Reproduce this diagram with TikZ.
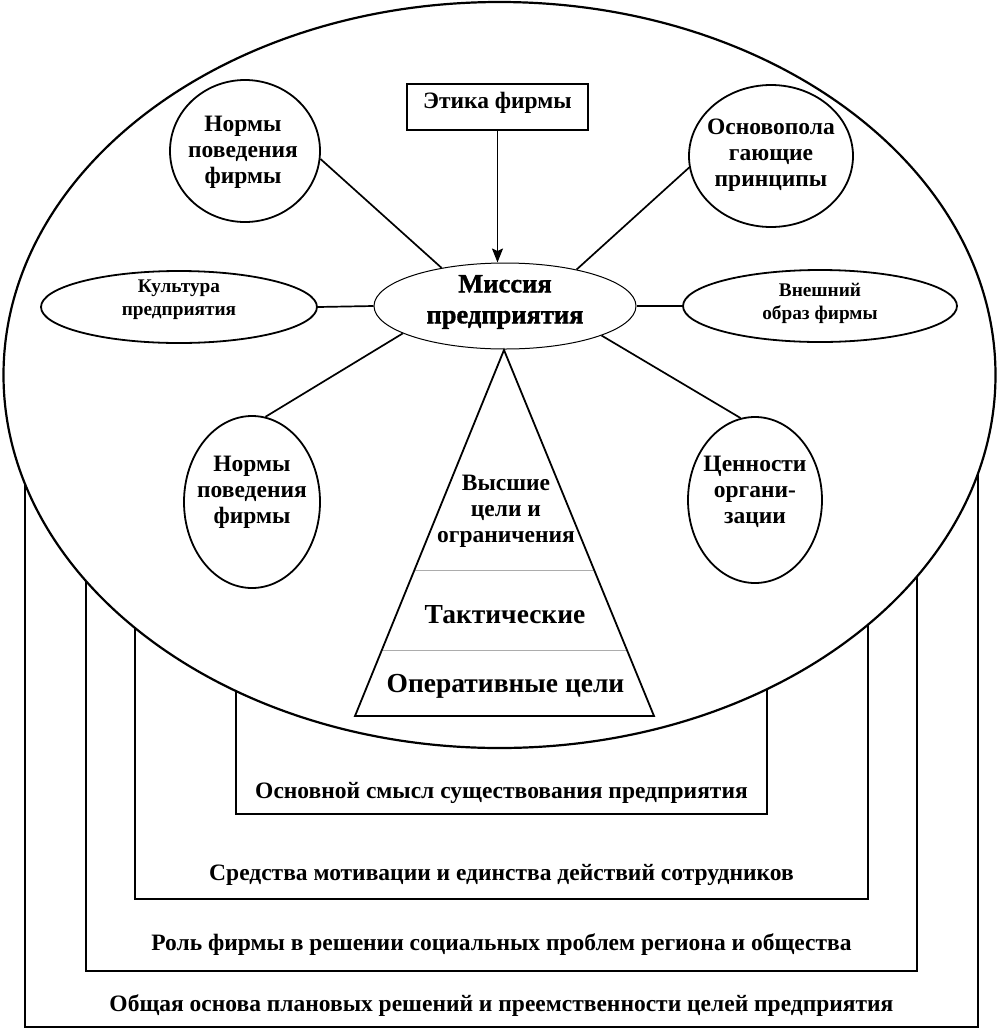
\documentclass[tikz,border=0pt]{standalone}
\usepackage{fontspec}
\setmainfont{Liberation Serif}
\newfontfamily\missfont{Liberation Serif Bold}[FakeBold=1.2]
\usetikzlibrary{shapes.geometric,arrows.meta,calc}
\tikzset{
  frame/.style={line width=2pt},
  sat/.style={draw, ellipse, line width=1.8pt, inner sep=0pt},
  conn/.style={line width=1.7pt},
  txt/.style={font=\fontsize{23.5}{26}\selectfont\bfseries, align=center, inner sep=0pt},
  smalltxt/.style={font=\fontsize{19.3}{23}\selectfont\bfseries, align=center, inner sep=0pt},
  bigtxt/.style={font=\fontsize{27.5}{31}\selectfont\bfseries, align=center, inner sep=0pt},
  misstxt/.style={font=\fontsize{26.5}{31}\selectfont\missfont, align=center, inner sep=0pt},
  divider/.style={draw=gray!65, line width=0.8pt}
}
\begin{document}
\begin{tikzpicture}[x=1pt,y=-1pt]
\useasboundingbox (0,0) rectangle (998,1029);
\fill[white] (0,0) rectangle (998,1029);
% nested frames
\draw[frame] (25,400) rectangle (978,1027);
\draw[frame] (86,400) rectangle (917,971);
\draw[frame] (135,400) rectangle (868,899);
\draw[frame] (236,400) rectangle (767,814);
% big ellipse
\draw[line width=2.2pt, fill=white] (499.5,375) ellipse [x radius=496pt, y radius=373pt];
% frame labels
\node[txt, anchor=base] (f1) at (501.5,798) {Основной смысл существования предприятия};
\node[txt, anchor=base] (f2) at (501.5,880) {Средства мотивации и единства действий сотрудников};
\node[txt, anchor=base] (f3) at (501.5,950) {Роль фирмы в решении социальных проблем региона и общества};
\node[txt, anchor=base] (f4) at (501.5,1011) {Общая основа плановых решений и преемственности целей предприятия};
% central mission
\node[draw, ellipse, line width=1pt, minimum width=262pt, minimum height=86pt, inner sep=0pt] (mission) at (505,306) {};
\node[misstxt] (missionT) at (505,302) {Миссия\\предприятия};
% ethics box
\node[draw, line width=1.8pt, minimum width=181pt, minimum height=46pt, inner sep=0pt] (ethics) at (497.5,107) {};
\node[txt] (ethicsT) at (497.5,102.5) {Этика фирмы};
% satellites
\node[sat, minimum width=150pt, minimum height=142pt] (norm1) at (245,151) {};
\node[txt] (norm1T) at (243,152) {Нормы\\поведения\\фирмы};
\node[sat, minimum width=276pt, minimum height=72pt] (cult) at (179,307) {};
\node[smalltxt] (cultT) at (179,299.5) {Культура\\предприятия};
\node[sat, minimum width=164pt, minimum height=142pt] (osn) at (771,156) {};
\node[txt] (osnT) at (771,155.5) {Основопола\\гающие\\принципы};
\node[sat, minimum width=274pt, minimum height=72pt] (vnesh) at (820,306) {};
\node[smalltxt] (vneshT) at (820,303) {Внешний\\образ фирмы};
\node[sat, minimum width=136pt, minimum height=172pt] (norm2) at (252,502) {};
\node[txt] (norm2T) at (252,492.5) {Нормы\\поведения\\фирмы};
\node[sat, minimum width=134pt, minimum height=166pt] (cen) at (755,500) {};
\node[txt] (cenT) at (755,491.5) {Ценности\\органи-\\зации};
% connectors
\draw[conn, -{Stealth[length=14pt,width=11pt,inset=2.5pt]}] (ethics.south) -- (ethics.south |- mission.north);
\draw[conn] (norm1.-6) -- (mission.149);
\draw[conn] (cult.east) -- (mission.west);
\draw[conn] (osn.188) -- (mission.27.5);
\draw[conn] (vnesh.west) -- (mission.east);
\draw[conn] (norm2.81) -- (mission.195);
\draw[conn] (cen.100) -- (mission.-17);
% pyramid
\coordinate (apex) at (504,350);
\coordinate (bl) at (355,716);
\coordinate (br) at (654,716);
\draw[divider] ($(apex)!0.601!(bl)$) -- ($(apex)!0.601!(br)$);
\draw[divider] ($(apex)!0.820!(bl)$) -- ($(apex)!0.820!(br)$);
\draw[line width=1.8pt, line join=miter] (apex) -- (bl) -- (br) -- cycle;
\node[txt] (p1) at (506,511.5) {Высшие\\цели и\\ограничения};
\node[bigtxt, anchor=base] (p2) at (505,623) {Тактические};
\node[bigtxt, anchor=base] (p3) at (505.5,692) {Оперативные цели};
\end{tikzpicture}
\end{document}
